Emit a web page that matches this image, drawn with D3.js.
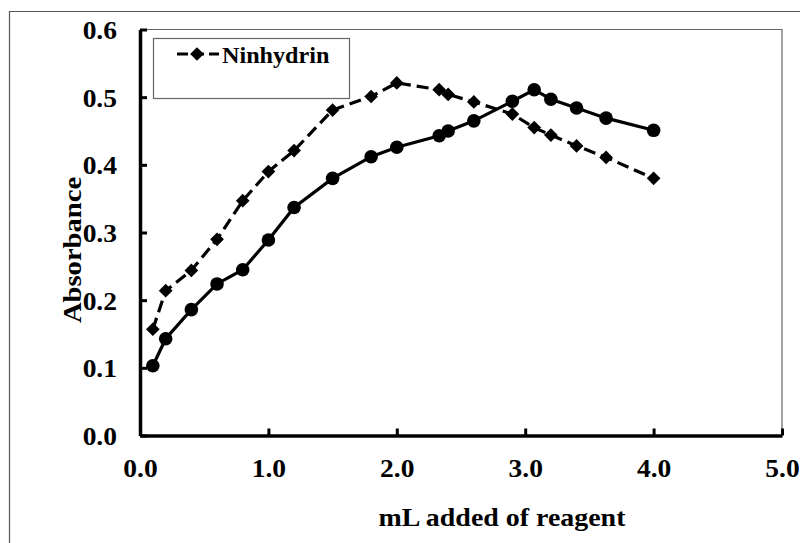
<!DOCTYPE html>
<html>
<head>
<meta charset="utf-8">
<script src="https://cdn.jsdelivr.net/npm/d3@7"></script>
<style>
  html, body { margin: 0; padding: 0; background: #fff; }
  svg { display: block; }
</style>
</head>
<body>
<svg id="chart" width="800" height="543"></svg>
<script>
// ---- data ----
const xValues = [0.1, 0.2, 0.4, 0.6, 0.8, 1.0, 1.2, 1.5, 1.8, 2.0, 2.33, 2.4, 2.6, 2.9, 3.07, 3.2, 3.4, 3.63, 4.0];
const solidSeries = [0.103, 0.143, 0.186, 0.224, 0.245, 0.289, 0.337, 0.380, 0.412, 0.426, 0.443, 0.450, 0.465, 0.494, 0.511, 0.497, 0.484, 0.469, 0.451];
const ninhydrinSeries = [0.157, 0.214, 0.244, 0.290, 0.347, 0.390, 0.421, 0.481, 0.501, 0.521, 0.511, 0.504, 0.493, 0.475, 0.455, 0.444, 0.428, 0.411, 0.380];
const xTicks = [0, 1, 2, 3, 4, 5];
const yTicks = [0, 0.1, 0.2, 0.3, 0.4, 0.5, 0.6];
const legendLabels = ["Ninhydrin"];
const xTitle = "mL added of reagent";
const yTitle = "Absorbance";

// ---- layout ----
const FONT = "Liberation Serif";
const svg = d3.select("#chart");
const plot = { left: 140, right: 782, top: 29.5, bottom: 435.5 };

const x = d3.scaleLinear().domain([0, 5]).range([plot.left, plot.right]);
const y = d3.scaleLinear().domain([0, 0.6]).range([plot.bottom, plot.top]);

// outer frame (left + top edges)
svg.append("path")
  .attr("d", "M9.5,543 L9.5,11.5 L800,11.5")
  .attr("fill", "none").attr("stroke", "#555").attr("stroke-width", 1.2);

// plot area frame (top + right edges)
svg.append("path")
  .attr("d", `M${plot.left},${plot.top} L${plot.right},${plot.top} L${plot.right},${plot.bottom}`)
  .attr("fill", "none").attr("stroke", "#666").attr("stroke-width", 1.2);

// axes
const xAxis = d3.axisBottom(x).tickValues(xTicks).tickFormat(d3.format(".1f"))
  .tickSizeInner(-7).tickSizeOuter(0).tickPadding(24);
const yAxis = d3.axisLeft(y).tickValues(yTicks).tickFormat(d3.format(".1f"))
  .tickSizeInner(-7).tickSizeOuter(0).tickPadding(23);

const gx = svg.append("g").attr("transform", `translate(0,${plot.bottom})`).call(xAxis);
const gy = svg.append("g").attr("transform", `translate(${plot.left},0)`).call(yAxis);

[gx, gy].forEach(g => {
  g.attr("font-family", FONT).attr("font-size", 25).attr("font-weight", "bold");
  g.select(".domain").attr("stroke", "#000").attr("stroke-width", 3.5);
  g.selectAll(".tick line").attr("stroke", "#000").attr("stroke-width", 3);
  g.selectAll(".tick text").attr("fill", "#000");
});
// horizontal widening of tick labels (reference glyphs are slightly wide)
gy.selectAll(".tick text")
  .attr("x", 0).attr("dy", "0.36em")
  .attr("transform", "translate(-23,0) scale(1.1,1)");
gx.selectAll(".tick text")
  .attr("y", 0)
  .attr("transform", "translate(0,24) scale(1.1,1)");

// axis titles
svg.append("text")
  .attr("transform", `translate(502,526) scale(1.117,1)`)
  .attr("text-anchor", "middle")
  .attr("font-family", FONT).attr("font-weight", "bold")
  .attr("font-size", 25)
  .text(xTitle);

svg.append("text")
  .attr("transform", `translate(81,250) rotate(-90) scale(1.1,1)`)
  .attr("text-anchor", "middle")
  .attr("font-family", FONT).attr("font-weight", "bold")
  .attr("font-size", 26)
  .text(yTitle);

// series
const solidData = xValues.map((v, i) => [v, solidSeries[i]]);
const ninData = xValues.map((v, i) => [v, ninhydrinSeries[i]]);
const line = d3.line().x(d => x(d[0])).y(d => y(d[1]));

svg.append("path").datum(ninData)
  .attr("d", line).attr("fill", "none")
  .attr("stroke", "#000").attr("stroke-width", 3.2)
  .attr("stroke-dasharray", "12,6");

const diamond = d3.symbol().type(d3.symbolDiamond2).size(120);
svg.append("g").selectAll("path").data(ninData).join("path")
  .attr("transform", d => `translate(${x(d[0])},${y(d[1])})`)
  .attr("d", diamond).attr("fill", "#000");

svg.append("path").datum(solidData)
  .attr("d", line).attr("fill", "none")
  .attr("stroke", "#000").attr("stroke-width", 3.2);

svg.append("g").selectAll("circle").data(solidData).join("circle")
  .attr("cx", d => x(d[0])).attr("cy", d => y(d[1]))
  .attr("r", 6.8).attr("fill", "#000");

// legend
const lg = svg.append("g");
lg.append("rect")
  .attr("x", 153.5).attr("y", 38.5).attr("width", 196).attr("height", 60)
  .attr("fill", "#fff").attr("stroke", "#666").attr("stroke-width", 1.2);
legendLabels.forEach((lab, i) => {
  const ly = 54 + i * 24;
  lg.append("line")
    .attr("x1", 177).attr("x2", 219).attr("y1", ly).attr("y2", ly)
    .attr("stroke", "#000").attr("stroke-width", 3.2)
    .attr("stroke-dasharray", "11,5");
  lg.append("path")
    .attr("transform", `translate(197,${ly})`)
    .attr("d", diamond).attr("fill", "#000");
  lg.append("text")
    .attr("transform", `translate(222,${ly + 9}) scale(1.05,1)`)
    .attr("font-family", FONT).attr("font-weight", "bold")
    .attr("font-size", 23)
    .text(lab);
});
</script>
</body>
</html>
